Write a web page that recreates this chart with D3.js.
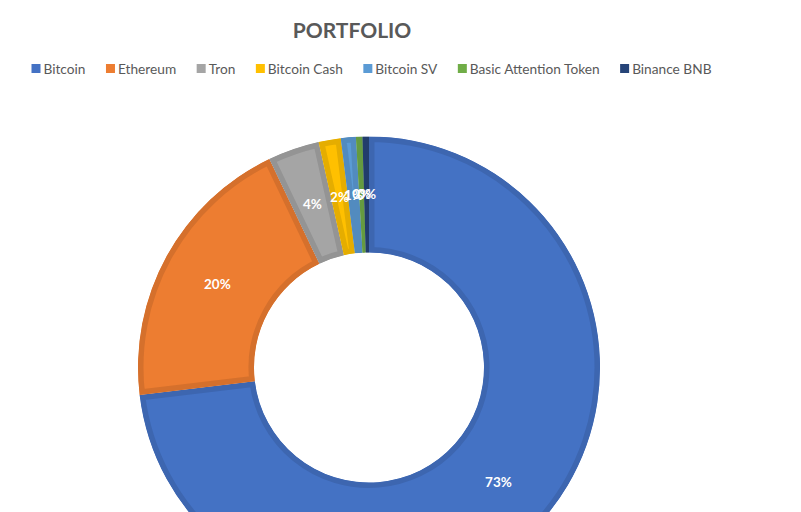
<!DOCTYPE html>
<html>
<head>
<meta charset="utf-8">
<script src="https://cdn.jsdelivr.net/npm/d3@7"></script>
<style>
  body { margin: 0; background: #fff; }
  svg { display: block; }
</style>
</head>
<body>
<svg width="801" height="512"></svg>
<script>
const coins = ['Bitcoin', 'Ethereum', 'Tron', 'Bitcoin Cash', 'Bitcoin SV', 'Basic Attention Token', 'Binance BNB'];
const shares = [73.1, 19.8, 3.6, 1.55, 1.05, 0.45, 0.45];
const colors = ['#4472C4', '#ED7D31', '#A5A5A5', '#FFC000', '#5B9BD5', '#70AD47', '#264478'];

const svg = d3.select('svg');
const cx = 369;
const cy = 367.5;

svg.append('rect').attr('width', 801).attr('height', 512).attr('fill', '#fff');

// title
svg.append('text')
  .attr('x', 352)
  .attr('y', 38)
  .attr('text-anchor', 'middle')
  .attr('font-family', 'Lato, sans-serif')
  .attr('font-weight', 'bold')
  .attr('font-size', 21)
  .attr('fill', '#595959')
  .text('PORTFOLIO');

// legend
const legend = svg.append('g');
let lx = 0;
coins.forEach((c, i) => {
  const item = legend.append('g').attr('transform', `translate(${lx},0)`);
  item.append('rect')
    .attr('x', 0).attr('y', 64)
    .attr('width', 9).attr('height', 9)
    .attr('fill', colors[i]);
  const t = item.append('text')
    .attr('x', 12).attr('y', 73.5)
    .attr('font-family', 'Lato, sans-serif')
    .attr('font-size', 13.7)
    .attr('fill', '#595959')
    .text(c);
  lx += 12 + t.node().getComputedTextLength() + 20.5;
});
const legendWidth = lx - 20.5;
legend.attr('transform', `translate(${371.5 - legendWidth / 2},0)`);

// doughnut
const pie = d3.pie().sort(null).value((d) => d);
const arc = d3.arc().innerRadius(115).outerRadius(231);
const arcs = pie(shares);

const defs = svg.append('defs');
const chart = svg.append('g').attr('transform', `translate(${cx},${cy})`);

arcs.forEach((a, i) => {
  defs.append('clipPath')
    .attr('id', 'slice-' + i)
    .append('path')
    .attr('d', arc(a));
});

chart.selectAll('path.slice')
  .data(arcs)
  .join('path')
  .attr('class', 'slice')
  .attr('d', arc)
  .attr('fill', (d, i) => colors[i])
  .attr('stroke', (d, i) => d3.color(colors[i]).darker(0.3))
  .attr('stroke-width', 11)
  .attr('clip-path', (d, i) => `url(#slice-${i})`);

chart.selectAll('text.lbl')
  .data(arcs)
  .join('text')
  .attr('class', 'lbl')
  .attr('transform', (d) => `translate(${arc.centroid(d)})`)
  .attr('text-anchor', 'middle')
  .attr('dy', '0.35em')
  .attr('font-family', 'Lato, sans-serif')
  .attr('font-weight', 'bold')
  .attr('font-size', 13.5)
  .attr('fill', '#fff')
  .text((d) => Math.round(d.data) + '%');
</script>
</body>
</html>
